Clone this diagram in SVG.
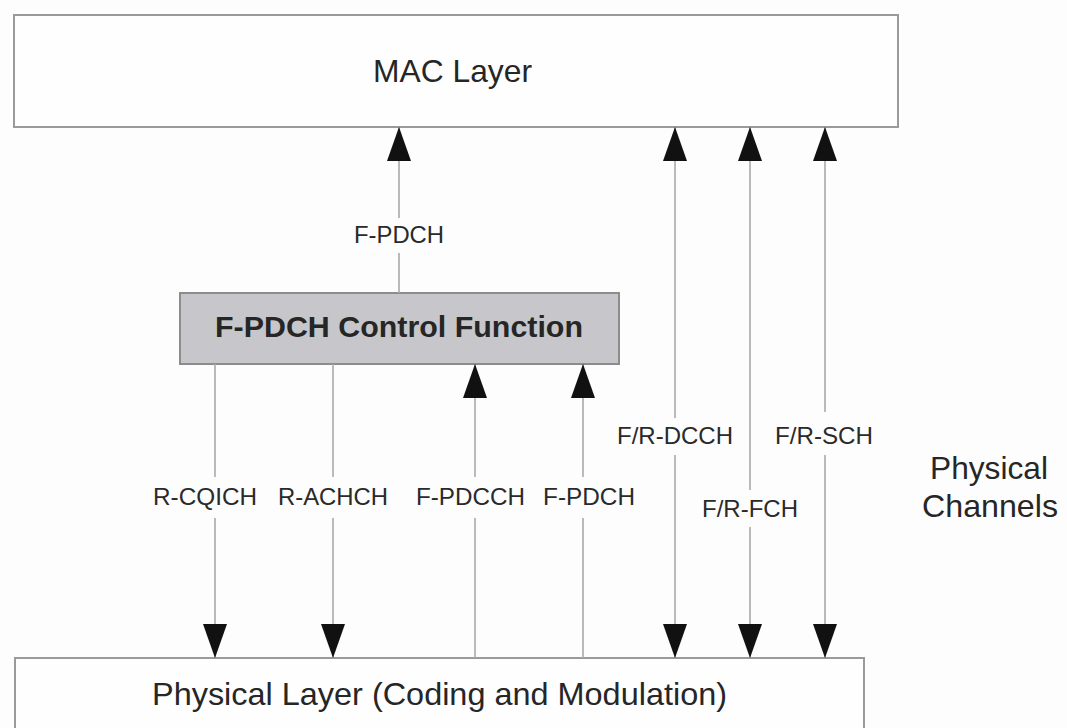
<svg xmlns="http://www.w3.org/2000/svg" width="1067" height="728" viewBox="0 0 1067 728">
<defs>
<marker id="ah" viewBox="0 0 34 24" refX="33" refY="12" markerWidth="34" markerHeight="24" markerUnits="userSpaceOnUse" orient="auto-start-reverse">
<path d="M0,0 L34,12 L0,24 Z" fill="#111"/>
</marker>
</defs>
<style>
.box{fill:#fefefe;stroke:#9a9a9a;stroke-width:2}
.ctrl{fill:#c7c7cb;stroke:#8c8c8c;stroke-width:2}
.ln{stroke:#a9a9a9;stroke-width:1.6;fill:none}
.bg{fill:#fdfdfd}
.big{font-family:"Liberation Sans",Arial,sans-serif;font-size:32px;fill:#262626}
.bold{font-family:"Liberation Sans",Arial,sans-serif;font-size:30px;font-weight:bold;fill:#262626}
.lab{font-family:"Liberation Sans",Arial,sans-serif;font-size:24px;fill:#2a2a2a}
</style>
<rect width="1067" height="728" fill="#fdfdfd"/>
<g id="mac">
<rect class="box" x="14" y="15" width="884" height="112"/>
<text class="big" x="373" y="82" textLength="159" lengthAdjust="spacingAndGlyphs">MAC Layer</text>
</g>
<g id="phy">
<rect class="box" x="15" y="658" width="849" height="100"/>
<text class="big" x="152" y="705" textLength="575" lengthAdjust="spacingAndGlyphs">Physical Layer (Coding and Modulation)</text>
</g>
<g id="ctrl">
<rect class="ctrl" x="180" y="293" width="439" height="71"/>
<text class="bold" x="215" y="337" textLength="368" lengthAdjust="spacingAndGlyphs">F-PDCH Control Function</text>
</g>
<g id="connectors">
<line class="ln" x1="399" y1="293" x2="399" y2="128" marker-end="url(#ah)"/>
<line class="ln" x1="215" y1="364" x2="215" y2="657" marker-end="url(#ah)"/>
<line class="ln" x1="333" y1="364" x2="333" y2="657" marker-end="url(#ah)"/>
<line class="ln" x1="475" y1="658" x2="475" y2="365" marker-end="url(#ah)"/>
<line class="ln" x1="583" y1="658" x2="583" y2="365" marker-end="url(#ah)"/>
<line class="ln" x1="675" y1="128" x2="675" y2="657" marker-start="url(#ah)" marker-end="url(#ah)"/>
<line class="ln" x1="750" y1="128" x2="750" y2="657" marker-start="url(#ah)" marker-end="url(#ah)"/>
<line class="ln" x1="825" y1="128" x2="825" y2="657" marker-start="url(#ah)" marker-end="url(#ah)"/>
</g>
<g id="labels">
<rect class="bg" x="350" y="218" width="98" height="35"/>
<text class="lab" x="354" y="243" textLength="90" lengthAdjust="spacingAndGlyphs">F-PDCH</text>
<rect class="bg" x="150" y="477" width="110" height="41"/>
<text class="lab" x="153" y="505" textLength="104" lengthAdjust="spacingAndGlyphs">R-CQICH</text>
<rect class="bg" x="274" y="477" width="118" height="41"/>
<text class="lab" x="278" y="505" textLength="110" lengthAdjust="spacingAndGlyphs">R-ACHCH</text>
<rect class="bg" x="411" y="477" width="119" height="41"/>
<text class="lab" x="416" y="505" textLength="109" lengthAdjust="spacingAndGlyphs">F-PDCCH</text>
<rect class="bg" x="539" y="477" width="100" height="41"/>
<text class="lab" x="543" y="505" textLength="92" lengthAdjust="spacingAndGlyphs">F-PDCH</text>
<rect class="bg" x="612" y="418" width="126" height="37"/>
<text class="lab" x="617" y="444" textLength="116" lengthAdjust="spacingAndGlyphs">F/R-DCCH</text>
<rect class="bg" x="770" y="412" width="108" height="43"/>
<text class="lab" x="775" y="444" textLength="98" lengthAdjust="spacingAndGlyphs">F/R-SCH</text>
<rect class="bg" x="698" y="490" width="104" height="37"/>
<text class="lab" x="702" y="517" textLength="96" lengthAdjust="spacingAndGlyphs">F/R-FCH</text>
<text class="big" x="930" y="479" textLength="118" lengthAdjust="spacingAndGlyphs">Physical</text>
<text class="big" x="922" y="517" textLength="136" lengthAdjust="spacingAndGlyphs">Channels</text>
</g>
</svg>
